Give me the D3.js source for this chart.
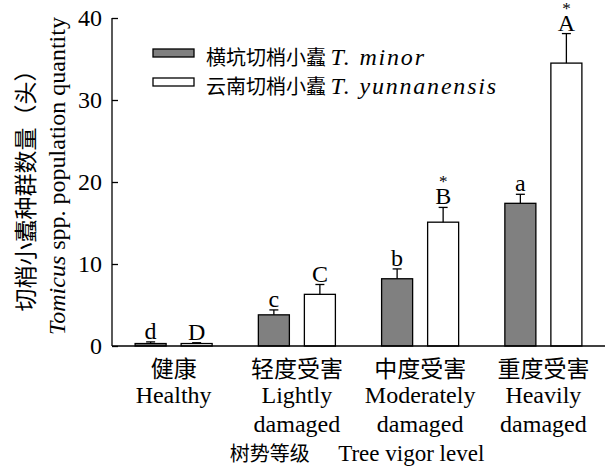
<!DOCTYPE html>
<html>
<head>
<meta charset="utf-8">
<script src="https://cdn.jsdelivr.net/npm/d3@7/dist/d3.min.js"></script>
<style>
  html, body { margin: 0; padding: 0; background: #fff; }
  svg { display: block; }
</style>
</head>
<body>
<svg id="chart" width="605" height="470"></svg>
<script>
// Tree vigor levels (Chinese + English, two-line English where wrapped)
const levelsCn = ["健康", "轻度受害", "中度受害", "重度受害"];
const levelsEn = [["Healthy"], ["Lightly", "damaged"], ["Moderately", "damaged"], ["Heavily", "damaged"]];

// Series
const seriesKeys = ["minor", "yunnanensis"];
const seriesCn = ["横坑切梢小蠹", "云南切梢小蠹"];
const seriesLatin = ["T. minor", "T. yunnanensis"];
const seriesFill = ["#808080", "#ffffff"];

// Mean population per tree and SE
const minorMean = [0.3, 3.8, 8.2, 17.4];
const minorSE = [0.2, 0.6, 1.2, 1.1];
const yunMean = [0.3, 6.3, 15.1, 34.5];
const yunSE = [0.1, 1.2, 1.8, 3.6];

// Significance letters and marks
const minorLetters = ["d", "c", "b", "a"];
const yunLetters = ["D", "C", "B", "A"];
const yunStar = [false, false, true, true];

const yTicks = [0, 10, 20, 30, 40];

const svg = d3.select("#chart");
const CJK = "'Noto Sans CJK SC', sans-serif";
const SERIF = "'Liberation Serif', 'Times New Roman', serif";

const x0 = d3.scaleBand().domain(levelsCn).range([112, 605]).paddingInner(0.375).paddingOuter(0.1875);
const x1 = d3.scaleBand().domain(seriesKeys).range([0, x0.bandwidth()]).paddingInner(0.326);
const y = d3.scaleLinear().domain([0, 40]).range([346, 18]);

const data = levelsCn.map((lv, i) => ({
  level: lv,
  bars: [
    { key: "minor", mean: minorMean[i], se: minorSE[i], letter: minorLetters[i], star: false, fill: seriesFill[0] },
    { key: "yunnanensis", mean: yunMean[i], se: yunSE[i], letter: yunLetters[i], star: yunStar[i], fill: seriesFill[1] }
  ]
}));

const g = svg.append("g");

const groups = g.selectAll("g.grp").data(data).join("g")
  .attr("transform", d => `translate(${x0(d.level)},0)`);

// bars
groups.selectAll("rect").data(d => d.bars).join("rect")
  .attr("x", d => x1(d.key))
  .attr("y", d => y(d.mean))
  .attr("width", x1.bandwidth())
  .attr("height", d => y(0) - y(d.mean))
  .attr("fill", d => d.fill)
  .attr("stroke", "#000")
  .attr("stroke-width", 1.3);

// error bars (upper only)
const cx = d => x1(d.key) + x1.bandwidth() / 2;
const eb = groups.selectAll("g.eb").data(d => d.bars).join("g");
eb.append("line")
  .attr("x1", cx).attr("x2", cx)
  .attr("y1", d => y(d.mean))
  .attr("y2", d => y(d.mean + d.se))
  .attr("stroke", "#000").attr("stroke-width", 1.3);
eb.append("line")
  .attr("x1", d => cx(d) - 4.5)
  .attr("x2", d => cx(d) + 4.5)
  .attr("y1", d => y(d.mean + d.se))
  .attr("y2", d => y(d.mean + d.se))
  .attr("stroke", "#000").attr("stroke-width", 1.3);

// significance letters, with the asterisk stacked above in the same text
const lab = eb.append("text")
  .attr("text-anchor", "middle")
  .style("font-family", SERIF);
lab.filter(d => d.star).append("tspan")
  .attr("x", cx)
  .attr("y", d => y(d.mean + d.se) - 20)
  .style("font-size", "17px")
  .text("*");
lab.append("tspan")
  .attr("x", cx)
  .attr("y", d => y(d.mean + d.se) - 3)
  .style("font-size", "24px")
  .text(d => d.letter);

// y axis
const yAxis = d3.axisLeft(y).tickValues(yTicks).tickSize(-6).tickPadding(10);
const ya = svg.append("g").attr("transform", "translate(112,0)").call(yAxis);
ya.select(".domain").attr("stroke-width", 1.3).attr("d", `M0,${y(40)}V${y(0)}`);
ya.selectAll(".tick line").attr("stroke-width", 1.3);
ya.selectAll(".tick text").style("font-family", SERIF).style("font-size", "24px").attr("dy", "0.33em");

// x axis baseline
const xAxis = d3.axisBottom(x0).tickSize(0).tickFormat("");
const xa = svg.append("g").attr("transform", `translate(0,${y(0)})`).call(xAxis);
xa.select(".domain").attr("stroke-width", 1.3).attr("d", `M112,0H605`);

// x category labels
const xl = svg.append("g");
levelsCn.forEach((lv, i) => {
  const c = x0(lv) + x0.bandwidth() / 2;
  xl.append("text").attr("x", c).attr("y", 377).attr("text-anchor", "middle")
    .style("font-family", CJK).style("font-size", "23px").text(lv);
  levelsEn[i].forEach((line, j) => {
    xl.append("text").attr("x", c).attr("y", 403 + j * 29).attr("text-anchor", "middle")
      .style("font-family", SERIF).style("font-size", "24px").text(line);
  });
});

// x axis title
const xt = svg.append("text").attr("x", 357).attr("y", 461).attr("text-anchor", "middle");
xt.append("tspan").style("font-family", CJK).style("font-size", "20px").text("树势等级 ");
xt.append("tspan").attr("dx", 24).style("font-family", SERIF).style("font-size", "23px").text("Tree vigor level");

// y axis title (two rotated lines)
svg.append("text")
  .attr("transform", "translate(34,185) rotate(-90)")
  .attr("text-anchor", "middle")
  .style("font-family", CJK).style("font-size", "23px")
  .text("切梢小蠹种群数量（头）");
const yt2 = svg.append("text")
  .attr("transform", "translate(65,176) rotate(-90)")
  .attr("text-anchor", "middle")
  .style("font-family", SERIF).style("font-size", "24px");
yt2.append("tspan").style("font-style", "italic").text("Tomicus");
yt2.append("tspan").text(" spp. population quantity");

// legend
const lg = svg.append("g");
seriesKeys.forEach((k, i) => {
  const ly = 49 + i * 29;
  lg.append("rect").attr("x", 153).attr("y", ly).attr("width", 41).attr("height", 8)
    .attr("fill", seriesFill[i]).attr("stroke", "#000").attr("stroke-width", 1.3);
  const t = lg.append("text").attr("x", 206).attr("y", ly + 16);
  t.append("tspan").style("font-family", CJK).style("font-size", "20px").text(seriesCn[i] + " ");
  t.append("tspan").style("font-family", SERIF).style("font-size", "24px")
    .style("font-style", "italic").style("letter-spacing", "1.8px").text(seriesLatin[i]);
});
</script>
</body>
</html>
